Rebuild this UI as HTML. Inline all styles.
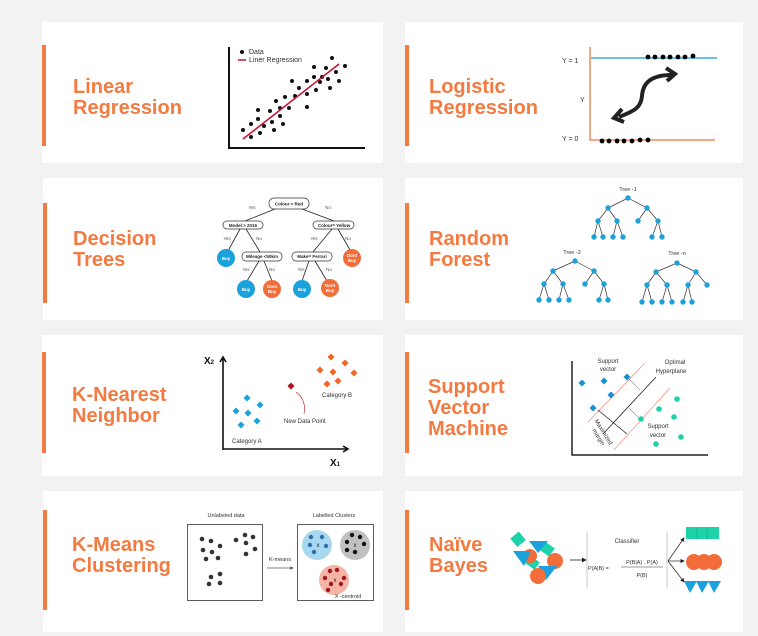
<!DOCTYPE html>
<html><head><meta charset="utf-8"><style>
html,body{margin:0;padding:0;background:#f2f2f2;}
svg{display:block;font-family:"Liberation Sans",sans-serif;}
.t{font-weight:bold;font-size:20px;fill:#f37a40;}
.s{font-size:7px;fill:#333;}
.b{font-size:4.5px;font-weight:bold;fill:#222;}
.w{font-size:4.5px;font-weight:bold;fill:#fff;}
</style></head><body>
<svg width="758" height="636" viewBox="0 0 758 636" xmlns="http://www.w3.org/2000/svg">
<defs>
<marker id="ah" markerWidth="6" markerHeight="6" refX="5" refY="3" orient="auto"><path d="M0,0 L6,3 L0,6 z" fill="#222"/></marker>
<marker id="ah2" markerWidth="5" markerHeight="5" refX="4" refY="2.5" orient="auto"><path d="M0,0 L5,2.5 L0,5 z" fill="#555"/></marker>
</defs>
<rect width="758" height="636" fill="#f2f2f2"/>
<!-- cards -->
<g fill="#fff">
<rect x="42" y="22" width="341" height="141"/><rect x="405" y="22" width="338" height="141"/>
<rect x="43" y="178" width="340" height="142"/><rect x="405" y="178" width="338" height="142"/>
<rect x="42" y="335" width="341" height="141"/><rect x="405" y="335" width="338" height="141"/>
<rect x="43" y="491" width="340" height="141"/><rect x="405" y="491" width="338" height="141"/>
</g>
<g fill="#f37a40">
<rect x="42" y="45" width="4" height="101"/><rect x="405" y="45" width="4" height="101"/>
<rect x="43" y="203" width="4" height="100"/><rect x="405" y="203" width="4" height="100"/>
<rect x="42" y="352" width="4" height="101"/><rect x="405" y="352" width="4" height="101"/>
<rect x="43" y="510" width="4" height="100"/><rect x="405" y="510" width="4" height="100"/>
</g>
<!-- titles -->
<text class="t" x="73" y="93">Linear</text><text class="t" x="73" y="114">Regression</text>
<text class="t" x="429" y="93">Logistic</text><text class="t" x="429" y="114">Regression</text>
<text class="t" x="73" y="245">Decision</text><text class="t" x="73" y="266">Trees</text>
<text class="t" x="429" y="245">Random</text><text class="t" x="429" y="266">Forest</text>
<text class="t" x="72" y="401">K-Nearest</text><text class="t" x="72" y="422">Neighbor</text>
<text class="t" x="428" y="393">Support</text><text class="t" x="428" y="414">Vector</text><text class="t" x="428" y="435">Machine</text>
<text class="t" x="72" y="551">K-Means</text><text class="t" x="72" y="572">Clustering</text>
<text class="t" x="429" y="551">Naïve</text><text class="t" x="429" y="572">Bayes</text>

<!-- Linear regression -->
<path d="M229,47 V148 H365" stroke="#111" stroke-width="2" fill="none"/>
<circle cx="242" cy="52" r="2" fill="#111"/><text class="s" x="249" y="54">Data</text>
<line x1="238" y1="60" x2="246" y2="60" stroke="#c8102e" stroke-width="1.5"/><text class="s" x="249" y="62">Liner Regression</text>
<g fill="#111">
<circle cx="243" cy="130" r="2"/><circle cx="251" cy="137" r="2"/><circle cx="251" cy="124" r="2"/><circle cx="260" cy="133" r="2"/><circle cx="258" cy="119" r="2"/><circle cx="264" cy="126" r="2"/><circle cx="258" cy="110" r="2"/><circle cx="270" cy="111" r="2"/><circle cx="274" cy="130" r="2"/><circle cx="272" cy="122" r="2"/><circle cx="280" cy="116" r="2"/><circle cx="283" cy="124" r="2"/><circle cx="276" cy="101" r="2"/><circle cx="280" cy="108" r="2"/><circle cx="285" cy="97" r="2"/><circle cx="289" cy="108" r="2"/><circle cx="292" cy="81" r="2"/><circle cx="299" cy="88" r="2"/><circle cx="295" cy="96" r="2"/><circle cx="307" cy="81" r="2"/><circle cx="307" cy="94" r="2"/><circle cx="307" cy="107" r="2"/><circle cx="314" cy="67" r="2"/><circle cx="314" cy="77" r="2"/><circle cx="316" cy="90" r="2"/><circle cx="320" cy="82" r="2"/><circle cx="322" cy="77" r="2"/><circle cx="326" cy="68" r="2"/><circle cx="328" cy="79" r="2"/><circle cx="330" cy="88" r="2"/><circle cx="332" cy="58" r="2"/><circle cx="336" cy="72" r="2"/><circle cx="339" cy="81" r="2"/><circle cx="345" cy="66" r="2"/>
</g>
<line x1="243" y1="139" x2="339" y2="64" stroke="#c8102e" stroke-width="1.5"/>

<!-- Logistic -->
<line x1="591" y1="58" x2="717" y2="58" stroke="#3aa8e0" stroke-width="1.5"/>
<path d="M590,47 V140 H715" stroke="#f58a5e" stroke-width="1.5" fill="none"/>
<text class="s" x="562" y="63">Y = 1</text><text class="s" x="580" y="102">Y</text><text class="s" x="562" y="141">Y = 0</text>
<g fill="#000">
<circle cx="648" cy="57" r="2.4"/><circle cx="655" cy="57" r="2.4"/><circle cx="663" cy="57" r="2.4"/><circle cx="670" cy="57" r="2.4"/><circle cx="678" cy="57" r="2.4"/><circle cx="685" cy="57" r="2.4"/><circle cx="693" cy="56" r="2.4"/>
<circle cx="602" cy="141" r="2.4"/><circle cx="609" cy="141" r="2.4"/><circle cx="617" cy="141" r="2.4"/><circle cx="624" cy="141" r="2.4"/><circle cx="632" cy="141" r="2.4"/><circle cx="640" cy="140" r="2.4"/><circle cx="648" cy="140" r="2.4"/>
</g>
<path d="M619,117 C634,111 641,108 642,96 C643,82 652,75 672,75" stroke="#222" stroke-width="4" fill="none"/>
<path d="M622,109 L614,118 L624,122" stroke="#222" stroke-width="4" fill="none"/>
<path d="M666,68 L675,74 L667,81" stroke="#222" stroke-width="4" fill="none"/>

<!-- Decision tree -->
<g stroke="#222" stroke-width="0.8" fill="none">
<line x1="275" y1="209" x2="245" y2="221"/><line x1="302" y1="209" x2="334" y2="221"/>
<line x1="240" y1="229" x2="228" y2="251"/><line x1="246" y1="229" x2="260" y2="252"/>
<line x1="332" y1="229" x2="313" y2="252"/><line x1="338" y1="229" x2="350" y2="250"/>
<line x1="259" y1="261" x2="247" y2="281"/><line x1="264" y1="261" x2="272" y2="281"/>
<line x1="309" y1="261" x2="302" y2="281"/><line x1="315" y1="261" x2="327" y2="281"/>
</g>
<g fill="#fff" stroke="#333" stroke-width="0.7">
<rect x="269" y="198" width="40" height="11" rx="5"/>
<rect x="223" y="221" width="40" height="8" rx="4"/>
<rect x="313" y="221" width="41" height="8" rx="4"/>
<rect x="242" y="252" width="40" height="9" rx="4"/>
<rect x="292" y="252" width="40" height="9" rx="4"/>
</g>
<text class="b" x="289" y="205.5" text-anchor="middle">Colour = Red</text>
<text class="b" x="243" y="227" text-anchor="middle">Model &gt; 2016</text>
<text class="b" x="334" y="227" text-anchor="middle">Colour= Yellow</text>
<text class="b" x="262" y="258" text-anchor="middle">Mileage &lt;50km</text>
<text class="b" x="312" y="258" text-anchor="middle">Make= Ferrari</text>
<g font-size="4.5" fill="#555" text-anchor="middle">
<text x="252" y="209">Yes</text><text x="328" y="209">No</text>
<text x="227" y="240">Yes</text><text x="259" y="240">No</text>
<text x="314" y="240">Yes</text><text x="348" y="240">No</text>
<text x="246" y="271">Yes</text><text x="272" y="271">No</text>
<text x="301" y="271">Yes</text><text x="329" y="271">No</text>
</g>
<g fill="#1ba2dc"><circle cx="226" cy="258" r="9"/><circle cx="246" cy="289" r="9"/><circle cx="302" cy="289" r="9"/></g>
<g fill="#f26d3a"><circle cx="352" cy="258" r="9"/><circle cx="272" cy="289" r="9"/><circle cx="330" cy="288" r="9"/></g>
<text class="w" x="226" y="260" text-anchor="middle">Buy</text><text class="w" x="246" y="291" text-anchor="middle">Buy</text><text class="w" x="302" y="291" text-anchor="middle">Buy</text>
<text class="w" x="352" y="257" text-anchor="middle">Dont</text><text class="w" x="352" y="262" text-anchor="middle">Buy</text>
<text class="w" x="272" y="288" text-anchor="middle">Dont</text><text class="w" x="272" y="293" text-anchor="middle">Buy</text>
<text class="w" x="330" y="287" text-anchor="middle">Dont</text><text class="w" x="330" y="292" text-anchor="middle">Buy</text>

<!-- Random forest -->
<g stroke="#333" stroke-width="0.7">
<path d="M628,198 L608,208 M628,198 L647,208 M608,208 L598,221 M608,208 L617,221 M647,208 L638,221 M647,208 L658,221 M598,221 L594,237 M598,221 L603,237 M617,221 L613,237 M617,221 L623,237 M658,221 L652,237 M658,221 L662,237"/>
<path d="M575,261 L553,271 M575,261 L594,271 M553,271 L544,284 M553,271 L563,284 M594,271 L585,284 M594,271 L604,284 M544,284 L539,300 M544,284 L549,300 M563,284 L559,300 M563,284 L569,300 M604,284 L599,300 M604,284 L608,300"/>
<path d="M677,263 L656,272 M677,263 L696,272 M656,272 L647,285 M656,272 L667,285 M696,272 L688,285 M696,272 L707,285 M647,285 L642,302 M647,285 L652,302 M667,285 L662,302 M667,285 L672,302 M688,285 L683,302 M688,285 L692,302"/>
</g>
<g fill="#1ba2dc">
<circle cx="628" cy="198" r="2.7"/><circle cx="608" cy="208" r="2.7"/><circle cx="647" cy="208" r="2.7"/><circle cx="598" cy="221" r="2.7"/><circle cx="617" cy="221" r="2.7"/><circle cx="638" cy="221" r="2.7"/><circle cx="658" cy="221" r="2.7"/><circle cx="594" cy="237" r="2.7"/><circle cx="603" cy="237" r="2.7"/><circle cx="613" cy="237" r="2.7"/><circle cx="623" cy="237" r="2.7"/><circle cx="652" cy="237" r="2.7"/><circle cx="662" cy="237" r="2.7"/>
<circle cx="575" cy="261" r="2.7"/><circle cx="553" cy="271" r="2.7"/><circle cx="594" cy="271" r="2.7"/><circle cx="544" cy="284" r="2.7"/><circle cx="563" cy="284" r="2.7"/><circle cx="585" cy="284" r="2.7"/><circle cx="604" cy="284" r="2.7"/><circle cx="539" cy="300" r="2.7"/><circle cx="549" cy="300" r="2.7"/><circle cx="559" cy="300" r="2.7"/><circle cx="569" cy="300" r="2.7"/><circle cx="599" cy="300" r="2.7"/><circle cx="608" cy="300" r="2.7"/>
<circle cx="677" cy="263" r="2.7"/><circle cx="656" cy="272" r="2.7"/><circle cx="696" cy="272" r="2.7"/><circle cx="647" cy="285" r="2.7"/><circle cx="667" cy="285" r="2.7"/><circle cx="688" cy="285" r="2.7"/><circle cx="707" cy="285" r="2.7"/><circle cx="642" cy="302" r="2.7"/><circle cx="652" cy="302" r="2.7"/><circle cx="662" cy="302" r="2.7"/><circle cx="672" cy="302" r="2.7"/><circle cx="683" cy="302" r="2.7"/><circle cx="692" cy="302" r="2.7"/>
</g>
<g font-size="5.5" fill="#333" text-anchor="middle"><text x="628" y="191">Tree -1</text><text x="572" y="254">Tree -2</text><text x="677" y="255">Tree -n</text></g>

<!-- KNN -->
<path d="M223,450 V358 M220,362 L223,357 L226,362" stroke="#111" stroke-width="1.6" fill="none"/>
<path d="M223,449 H348 M343,446 L348,449 L343,452" stroke="#111" stroke-width="1.6" fill="none"/>
<text x="204" y="364" font-size="10" font-weight="bold" fill="#111">X<tspan font-size="6">2</tspan></text>
<text x="330" y="466" font-size="10" font-weight="bold" fill="#111">X<tspan font-size="6">1</tspan></text>
<g fill="#1ba2dc">
<rect x="244.5" y="395.5" width="5" height="5" transform="rotate(45 247 398)"/><rect x="233.5" y="408.5" width="5" height="5" transform="rotate(45 236 411)"/><rect x="257.5" y="402.5" width="5" height="5" transform="rotate(45 260 405)"/><rect x="245.5" y="410.5" width="5" height="5" transform="rotate(45 248 413)"/><rect x="254.5" y="418.5" width="5" height="5" transform="rotate(45 257 421)"/><rect x="238.5" y="422.5" width="5" height="5" transform="rotate(45 241 425)"/>
</g>
<g fill="#f26522">
<rect x="328.5" y="354.5" width="5" height="5" transform="rotate(45 331 357)"/><rect x="342.5" y="360.5" width="5" height="5" transform="rotate(45 345 363)"/><rect x="317.5" y="367.5" width="5" height="5" transform="rotate(45 320 370)"/><rect x="330.5" y="369.5" width="5" height="5" transform="rotate(45 333 372)"/><rect x="351.5" y="370.5" width="5" height="5" transform="rotate(45 354 373)"/><rect x="335.5" y="378.5" width="5" height="5" transform="rotate(45 338 381)"/><rect x="324.5" y="381.5" width="5" height="5" transform="rotate(45 327 384)"/>
</g>
<rect x="288.5" y="383.5" width="5" height="5" transform="rotate(45 291 386)" fill="#b5121b"/>
<path d="M304,414 C306,404 302,396 296,392" stroke="#b5121b" stroke-width="0.6" fill="none"/>
<g font-size="6" fill="#333"><text x="232" y="443">Category A</text><text x="322" y="397">Category B</text><text x="284" y="423">New Data Point</text></g>

<!-- K-means -->
<text x="226" y="517" font-size="5.5" fill="#333" text-anchor="middle">Unlabeled data</text>
<text x="334" y="517" font-size="5.5" fill="#333" text-anchor="middle">Labelled Clusters</text>
<rect x="187.5" y="524.5" width="75" height="76" fill="none" stroke="#333" stroke-width="0.8"/>
<rect x="297.5" y="524.5" width="76" height="76" fill="none" stroke="#333" stroke-width="0.8"/>
<g fill="#333">
<circle cx="202" cy="539" r="2.3"/><circle cx="211" cy="541" r="2.3"/><circle cx="220" cy="546" r="2.3"/><circle cx="203" cy="550" r="2.3"/><circle cx="212" cy="552" r="2.3"/><circle cx="206" cy="559" r="2.3"/><circle cx="218" cy="558" r="2.3"/><circle cx="236" cy="540" r="2.3"/><circle cx="245" cy="535" r="2.3"/><circle cx="253" cy="537" r="2.3"/><circle cx="246" cy="543" r="2.3"/><circle cx="255" cy="549" r="2.3"/><circle cx="246" cy="554" r="2.3"/><circle cx="211" cy="577" r="2.3"/><circle cx="220" cy="574" r="2.3"/><circle cx="209" cy="584" r="2.3"/><circle cx="220" cy="583" r="2.3"/>
</g>
<line x1="267" y1="568" x2="293" y2="568" stroke="#555" stroke-width="0.7" marker-end="url(#ah2)"/>
<text x="280" y="561" font-size="5.5" fill="#333" text-anchor="middle">K-means</text>
<circle cx="317" cy="545" r="15" fill="#a8d8f0"/><circle cx="355" cy="545" r="15" fill="#c0c0c0"/><circle cx="334" cy="580" r="15" fill="#f6b5a4"/>
<g fill="#2e6fa8"><circle cx="311" cy="537" r="2.2"/><circle cx="322" cy="537" r="2.2"/><circle cx="310" cy="545" r="2.2"/><circle cx="326" cy="546" r="2.2"/><circle cx="314" cy="552" r="2.2"/></g>
<g fill="#111"><circle cx="352" cy="535" r="2.2"/><circle cx="347" cy="542" r="2.2"/><circle cx="364" cy="544" r="2.2"/><circle cx="347" cy="550" r="2.2"/><circle cx="355" cy="552" r="2.2"/><circle cx="360" cy="537" r="2.2"/></g>
<g fill="#a31621"><circle cx="330" cy="571" r="2.2"/><circle cx="337" cy="570" r="2.2"/><circle cx="325" cy="578" r="2.2"/><circle cx="344" cy="578" r="2.2"/><circle cx="341" cy="584" r="2.2"/><circle cx="331" cy="584" r="2.2"/><circle cx="328" cy="590" r="2.2"/></g>
<g font-size="6" fill="#222" text-anchor="middle"><text x="318" y="547">x</text><text x="355" y="547">x</text><text x="335" y="582">x</text></g>
<text x="348" y="598" font-size="5.5" fill="#333" text-anchor="middle">X -centroid</text>

<!-- SVM -->
<path d="M572,361 V455 H708" stroke="#222" stroke-width="1.5" fill="none"/>
<line x1="588" y1="422" x2="645" y2="363" stroke="#f58a6e" stroke-width="0.7"/>
<line x1="614" y1="450" x2="670" y2="388" stroke="#f58a6e" stroke-width="0.7"/>
<line x1="603" y1="434" x2="656" y2="377" stroke="#222" stroke-width="0.8"/>
<line x1="598" y1="410" x2="627" y2="434" stroke="#222" stroke-width="0.8"/>
<line x1="627" y1="377" x2="640" y2="390" stroke="#555" stroke-width="0.5"/>
<line x1="629" y1="408" x2="640" y2="419" stroke="#555" stroke-width="0.5"/>
<g fill="#1a8fd4">
<rect x="579.5" y="380.5" width="5" height="5" transform="rotate(45 582 383)"/><rect x="601.5" y="378.5" width="5" height="5" transform="rotate(45 604 381)"/><rect x="624.5" y="374.5" width="5" height="5" transform="rotate(45 627 377)"/><rect x="608.5" y="392.5" width="5" height="5" transform="rotate(45 611 395)"/><rect x="590.5" y="405.5" width="5" height="5" transform="rotate(45 593 408)"/>
</g>
<g fill="#1dd1a9"><circle cx="677" cy="399" r="2.8"/><circle cx="659" cy="409" r="2.8"/><circle cx="674" cy="417" r="2.8"/><circle cx="641" cy="419" r="2.8"/><circle cx="681" cy="437" r="2.8"/><circle cx="656" cy="444" r="2.8"/></g>
<g font-size="6" fill="#333" text-anchor="middle">
<text x="608" y="363">Support</text><text x="608" y="371">vector</text>
<text x="675" y="364">Optimal</text><text x="671" y="373">Hyperplane</text>
<text x="658" y="428">Support</text><text x="658" y="437">vector</text>
<text transform="translate(602,433) rotate(58)" x="0" y="0">Maximized</text>
<text transform="translate(597,438) rotate(58)" x="0" y="0">margin</text>
</g>

<!-- Naive Bayes -->
<rect x="513" y="534" width="11" height="11" fill="#1dd1a9" transform="rotate(-40 518 540)"/>
<rect x="541" y="544" width="12" height="10" fill="#1dd1a9" transform="rotate(35 547 549)"/>
<rect x="526" y="558" width="12" height="9" fill="#1dd1a9" transform="rotate(35 532 563)"/>
<path d="M529,541 L548,541 L538,553 z" fill="#1ba2dc"/>
<circle cx="530" cy="556" r="7" fill="#f26d3a"/>
<path d="M513,551 L531,551 L524,566 z" fill="#1ba2dc"/>
<circle cx="555" cy="561" r="8" fill="#f26d3a"/>
<path d="M538,566 L557,566 L546,580 z" fill="#1ba2dc"/>
<circle cx="538" cy="576" r="8" fill="#f26d3a"/>
<line x1="570" y1="560" x2="586" y2="560" stroke="#222" stroke-width="0.8" marker-end="url(#ah)"/>
<line x1="587" y1="532" x2="587" y2="588" stroke="#bbb" stroke-width="0.8"/>
<line x1="667" y1="532" x2="667" y2="588" stroke="#bbb" stroke-width="0.8"/>
<text x="627" y="543" font-size="6" fill="#333" text-anchor="middle">Classifier</text>
<text x="588" y="570" font-size="5.5" fill="#333">P(A|B) =</text>
<text x="642" y="564" font-size="5.5" fill="#333" text-anchor="middle">P(B|A) . P(A)</text>
<line x1="621" y1="567" x2="663" y2="567" stroke="#333" stroke-width="0.6"/>
<text x="642" y="577" font-size="5.5" fill="#333" text-anchor="middle">P(B)</text>
<g stroke="#222" stroke-width="0.7" fill="none">
<line x1="668" y1="561" x2="684" y2="538" marker-end="url(#ah)"/>
<line x1="668" y1="561" x2="684" y2="561" marker-end="url(#ah)"/>
<line x1="668" y1="561" x2="684" y2="582" marker-end="url(#ah)"/>
</g>
<rect x="686" y="527" width="33" height="12" fill="#1dd1a9"/>
<line x1="697" y1="527" x2="697" y2="539" stroke="#17b892" stroke-width="1"/><line x1="707" y1="527" x2="707" y2="539" stroke="#17b892" stroke-width="1"/>
<circle cx="694" cy="562" r="8" fill="#f26d3a"/><circle cx="704" cy="562" r="8" fill="#f26d3a"/><circle cx="714" cy="562" r="8" fill="#f26d3a"/>
<path d="M684,581 L697,581 L690,593 z M696,581 L709,581 L702,593 z M708,581 L721,581 L714,593 z" fill="#1ba2dc"/>
</svg>
</body></html>
